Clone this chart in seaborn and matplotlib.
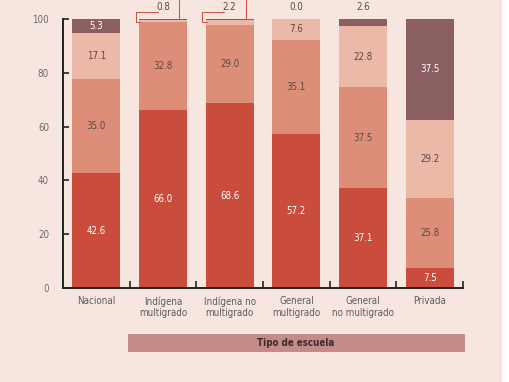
import numpy as np
import pandas as pd
import matplotlib
matplotlib.use("Agg")
import matplotlib.pyplot as plt
import seaborn as sns

escuelas = ["Nacional", "Indígena\nmultigrado", "Indígena no\nmultigrado",
            "General\nmultigrado", "General\nno multigrado", "Privada"]
nivel1 = [42.6, 66.0, 68.6, 57.2, 37.1, 7.5]
nivel2 = [35.0, 32.8, 29.0, 35.1, 37.5, 25.8]
nivel3 = [17.1, 0.8, 2.2, 7.6, 22.8, 29.2]
nivel4 = [5.3, 0.4, 0.2, 0.0, 2.6, 37.5]

colores = ["#c94c3d", "#dd8e79", "#ecb8a7", "#8a5f61"]
texto_color = ["white", "#5b4746", "#5b4746", "white"]
fondo = "#f7e5df"


def main():
    sns.set_theme(style="white")
    plt.rcParams["font.family"] = ["DejaVu Sans"]
    plt.rcParams["font.stretch"] = "condensed"

    niveles = [nivel1, nivel2, nivel3, nivel4]
    df = pd.DataFrame({"escuela": escuelas})
    acum = np.cumsum(np.array(niveles), axis=0)

    fig = plt.figure(figsize=(5.10, 3.82), dpi=100)
    fig.patch.set_facecolor("white")
    fig.add_artist(plt.Rectangle((0, 0), 502 / 510, 1, transform=fig.transFigure,
                                 facecolor=fondo, edgecolor="none", zorder=-10))
    ax = fig.add_axes([63 / 510, 1 - 288 / 382, 400 / 510, 269 / 382])
    ax.set_facecolor("none")

    # barras apiladas: se dibuja primero el acumulado mayor
    for i in range(3, -1, -1):
        df["acum"] = acum[i]
        sns.barplot(data=df, x="escuela", y="acum", color=colores[i],
                    width=0.72, saturation=1, ax=ax, linewidth=0)

    # etiquetas de valores
    for j in range(len(escuelas)):
        for i, n in enumerate(niveles):
            v = n[j]
            if v < 5:
                continue
            y = acum[i][j] - v / 2
            ax.text(j, y, f"{v:.1f}", ha="center", va="center", fontsize=7,
                    color=texto_color[i])

    # valores pequeños arriba de las barras
    for j in (3, 4):
        ax.text(j, 102.5, f"{nivel4[j]:.1f}", ha="center", va="bottom",
                fontsize=7, color="#5b4746", clip_on=False)
    for j in (1, 2):
        ax.text(j, 102.5, f"{nivel3[j]:.1f}", ha="center", va="bottom",
                fontsize=7, color="#5b4746", clip_on=False)
        x0 = j - 0.41
        ax.plot([x0 + 0.07, x0, x0, j - 0.08], [99, 99, 102.5, 102.5],
                color="#c94c3d", lw=0.7, clip_on=False)
        ax.plot([j + 0.24, j + 0.24], [100, 107], color="#c94c3d", lw=0.7,
                clip_on=False)

    ax.set_xlim(-0.5, 5.5)
    ax.set_ylim(0, 100)
    ax.set_xlabel("")
    ax.set_ylabel("")
    ax.set_yticks([0, 20, 40, 60, 80, 100])
    ax.tick_params(axis="y", direction="in", length=4, width=1.2, color="#222222",
                   labelsize=7, labelcolor="#6b6b6b", pad=10, left=True)
    ax.set_xticks(range(len(escuelas)))
    ax.set_xticklabels(escuelas, fontsize=7, color="#5b5b5b", linespacing=1.2)
    ax.tick_params(axis="x", length=0, pad=6)
    ax.set_xticks(np.arange(0.5, 6, 1), minor=True)
    ax.tick_params(axis="x", which="minor", direction="in", length=5, width=1.2,
                   color="#222222", bottom=True)
    for s in ("top", "right"):
        ax.spines[s].set_visible(False)
    for s in ("left", "bottom"):
        ax.spines[s].set_color("#222222")
        ax.spines[s].set_linewidth(1.4)

    fig.add_artist(plt.Rectangle((128 / 510, 1 - 352 / 382), 337 / 510, 18 / 382,
                                 transform=fig.transFigure, facecolor="#c58b89",
                                 edgecolor="none"))
    fig.text(296 / 510, 1 - 343 / 382, "Tipo de escuela", ha="center", va="center",
             fontsize=7, fontweight="bold", color="#3a2a2a")

    plt.savefig("out.png", dpi=100)
    plt.close()


if __name__ == "__main__":
    main()
